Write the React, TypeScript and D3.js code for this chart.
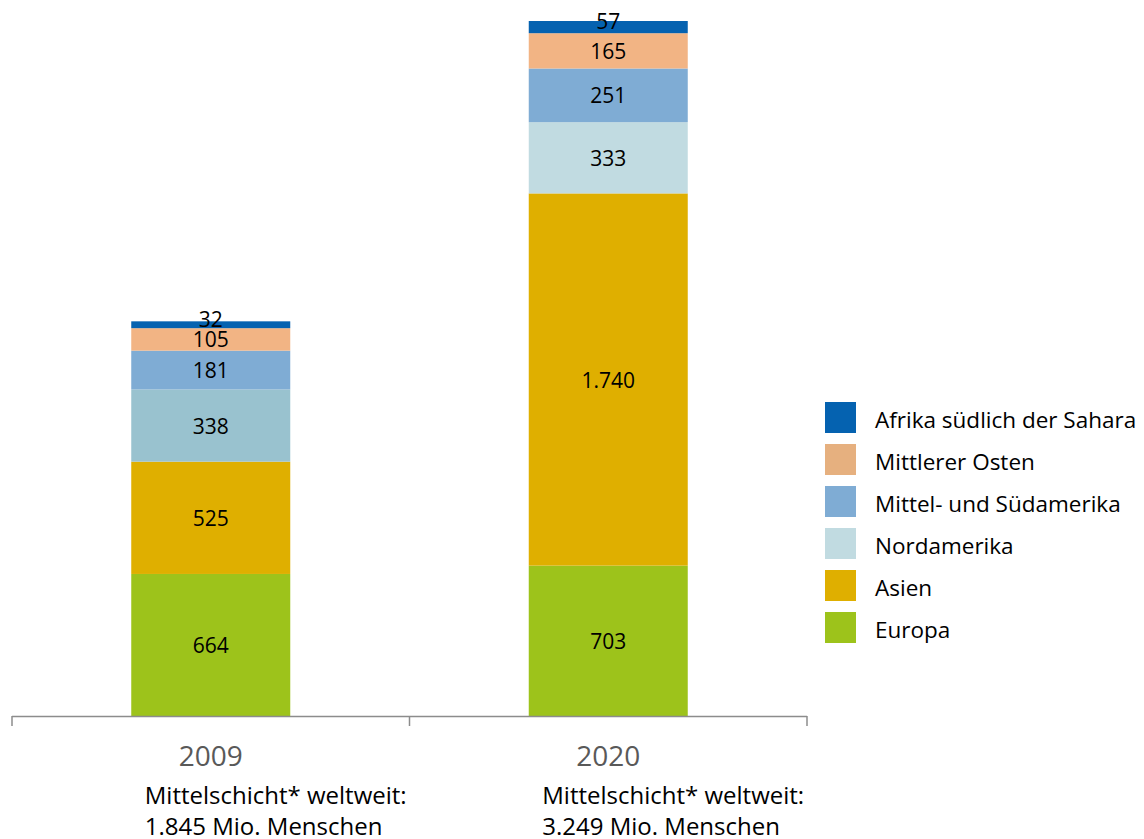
import React from "react";
import * as d3 from "d3";

const categories = ["2009", "2020"];
const seriesNames = [
  "Europa",
  "Asien",
  "Nordamerika",
  "Mittel- und Südamerika",
  "Mittlerer Osten",
  "Afrika südlich der Sahara",
];
const values2009 = [664, 525, 338, 181, 105, 32];
const values2020 = [703, 1740, 333, 251, 165, 57];
const totalLabels = ["1.845", "3.249"];
const subtitleLine1 = "Mittelschicht* weltweit:";

const legendColors = ["#9dc31b", "#dfaf00", "#c1dbe1", "#7facd4", "#e6b07f", "#0562b0"];
const barColors2009 = ["#9dc31b", "#dfaf00", "#99c2cf", "#7facd4", "#f2b484", "#0562b0"];
const barColors2020 = ["#9dc31b", "#dfaf00", "#c1dbe1", "#7facd4", "#f2b484", "#0562b0"];

const W = 1144;
const H = 839;
const FONT = "'Open Sans', 'Noto Sans', sans-serif";

export default function App() {
  const valuesByCat = [values2009, values2020];
  const colorsByCat = [barColors2009, barColors2020];
  const rows = categories.map((c, i) => {
    const r: any = { cat: c };
    seriesNames.forEach((s, j) => (r[s] = valuesByCat[i][j]));
    return r;
  });
  const stack = d3.stack<any>().keys(seriesNames)(rows);
  const maxY = d3.max(valuesByCat, (v) => d3.sum(v)) as number;

  const x = d3.scaleBand().domain(categories).range([12, 807]).paddingInner(0).paddingOuter(0);
  const y = d3.scaleLinear().domain([0, maxY]).range([716, 21]);
  const barW = x.bandwidth() * 0.4;
  const loc = d3.formatLocale({ decimal: ",", thousands: ".", grouping: [3], currency: ["", "€"] });
  const fmt = loc.format(",d");

  const tickXs = [...categories.map((c) => x(c) as number), 807];

  return (
    <div style={{ position: "absolute", left: 0, top: 0 }}>
      <svg width={W} height={H} style={{ display: "block", background: "#fff" }}>
        {stack.map((layer, j) =>
          layer.map((d, i) => {
            const cx = (x(categories[i]) as number) + x.bandwidth() / 2;
            const y0 = y(d[0]);
            const y1 = y(d[1]);
            const h = y0 - y1;
            return (
              <rect
                key={`${j}-${i}`}
                x={cx - barW / 2}
                y={y1}
                width={barW}
                height={h}
                fill={colorsByCat[i][j]}
              />
            );
          })
        )}
        {stack.map((layer, j) =>
          layer.map((d, i) => {
            const cx = (x(categories[i]) as number) + x.bandwidth() / 2;
            const y0 = y(d[0]);
            const y1 = y(d[1]);
            const h = y0 - y1;
            let ly = (y0 + y1) / 2;
            if (h < 20) ly -= 6;
            return (
              <text
                key={`t${j}-${i}`}
                x={cx}
                y={ly}
                textAnchor="middle"
                dominantBaseline="central"
                fontFamily={FONT}
                fontSize={21}
                fill="#000"
              >
                {fmt(d[1] - d[0])}
              </text>
            );
          })
        )}
        <line x1={12} x2={807} y1={716.5} y2={716.5} stroke="#8c8c8c" strokeWidth={1.5} />
        {tickXs.map((tx, i) => (
          <line key={i} x1={tx} x2={tx} y1={716} y2={726} stroke="#8c8c8c" strokeWidth={1.5} />
        ))}
        {categories.map((c, i) => {
          const cx = (x(c) as number) + x.bandwidth() / 2;
          return (
            <g key={c}>
              <text x={cx} y={766} textAnchor="middle" fontFamily={FONT} fontSize={28} fill="#595959">
                {c}
              </text>
              <text x={cx - 66} y={804} fontFamily={FONT} fontSize={24} fill="#000">
                {subtitleLine1}
              </text>
              <text x={cx - 66} y={835} fontFamily={FONT} fontSize={24} fill="#000">
                {`${totalLabels[i]} Mio. Menschen`}
              </text>
            </g>
          );
        })}
        {seriesNames
          .map((s, j) => ({ s, j }))
          .reverse()
          .map(({ s, j }, k) => (
            <g key={s} transform={`translate(825, ${402 + k * 42})`}>
              <rect width={31} height={31} fill={legendColors[j]} />
              <text x={50} y={17} dominantBaseline="central" fontFamily={FONT} fontSize={22.5} fill="#000">
                {s}
              </text>
            </g>
          ))}
      </svg>
    </div>
  );
}
